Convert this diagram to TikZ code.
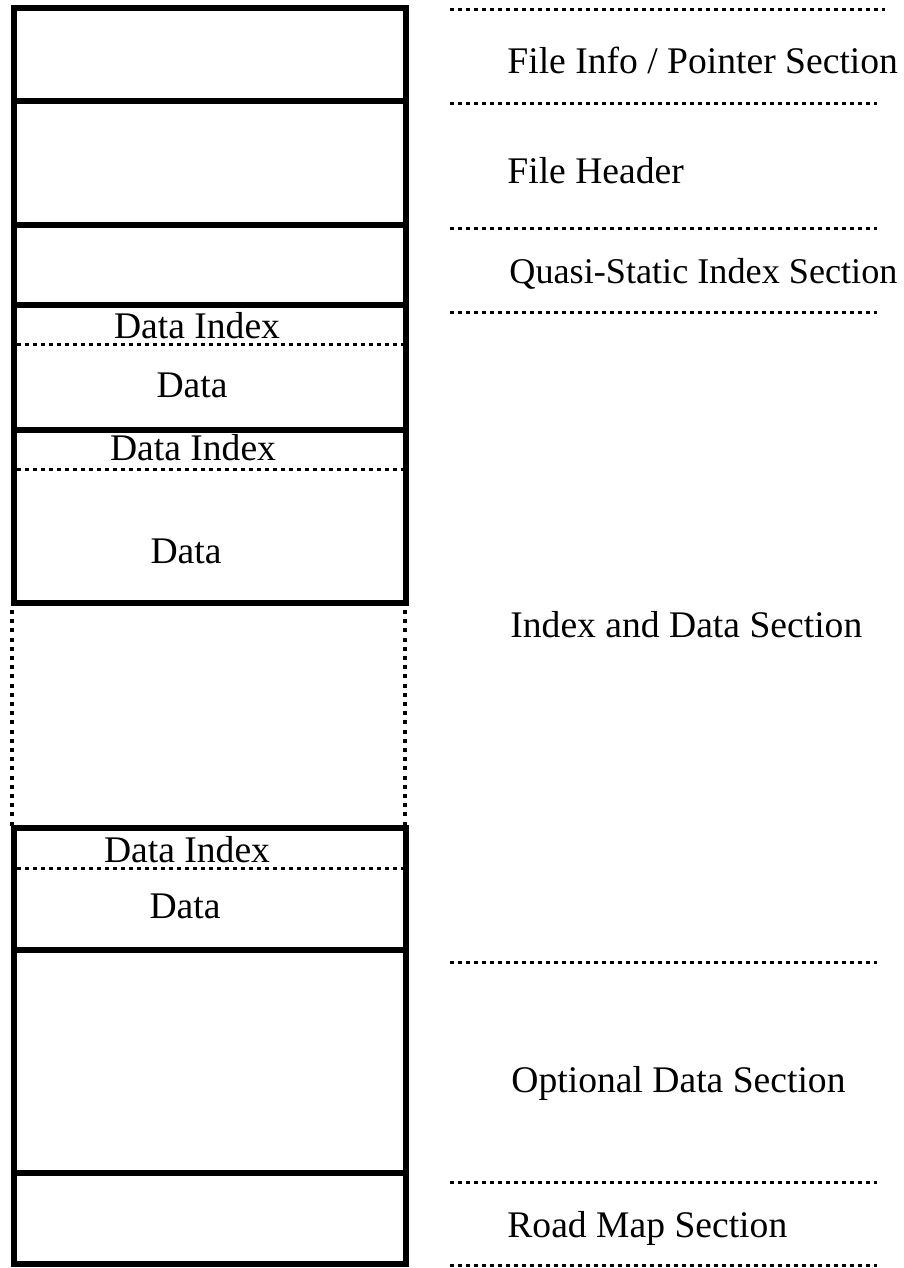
\documentclass[tikz,border=0pt]{standalone}
\usepackage{fontspec}
\setmainfont{Liberation Serif}
\usetikzlibrary{positioning}

\tikzset{
  wall/.style={draw, line width=2.8pt},
  gapline/.style={line width=2pt, dash pattern=on 2pt off 2.6pt},
  divline/.style={line width=1.5pt, dash pattern=on 2pt off 2pt},
  markline/.style={line width=1.5pt, dash pattern=on 2.2pt off 1.8pt},
  seclabel/.style={anchor=base west, inner sep=0pt},
  celllabel/.style={anchor=base, inner sep=0pt}
}

\begin{document}
\begin{tikzpicture}[x=0.5pt, y=-0.5pt, every node/.style={font=\fontsize{18.8}{21}\selectfont}]
        \useasboundingbox (0,0) rectangle (904,1268);

        % file column
        \draw[wall] (14,8) rectangle (406,101);
        \draw[wall] (14,101) rectangle (406,225);
        \draw[wall] (14,225) rectangle (406,305);
        \draw[wall] (14,305) rectangle (406,430);
        \draw[wall] (14,430) rectangle (406,603);
        \draw[wall] (14,828) rectangle (406,950);
        \draw[wall] (14,950) rectangle (406,1173);
        \draw[wall] (14,1173) rectangle (406,1264);

        % open part between the blocks
        \coordinate (gl1) at (12,610);
        \coordinate (gl2) at (12,826);
        \coordinate (gr1) at (405,610);
        \coordinate (gr2) at (405,826);
        \draw[gapline] (gl1) -- (gl2);
        \draw[gapline] (gr1) -- (gr2);

        % index / data split
        \coordinate (d1a) at (17,344);
        \coordinate (d1b) at (403,344);
        \coordinate (d2a) at (17,469);
        \coordinate (d2b) at (403,469);
        \coordinate (d3a) at (17,868);
        \coordinate (d3b) at (403,868);
        \draw[divline] (d1a) -- (d1b);
        \draw[divline] (d2a) -- (d2b);
        \draw[divline] (d3a) -- (d3b);

        \node[celllabel] (idx1) at (197,338) {Data Index};
        \node[celllabel] (dat1) at (192,397) {Data};
        \node[celllabel] (idx2) at (193,460) {Data Index};
        \node[celllabel] (dat2) at (186,563) {Data};
        \node[celllabel] (idx3) at (187,862) {Data Index};
        \node[celllabel] (dat3) at (185,918) {Data};

        % section marks on the right
        \coordinate (m1a) at (450,10);
        \coordinate (m1b) at (885,10);
        \coordinate (m2a) at (450,104);
        \coordinate (m2b) at (877,104);
        \coordinate (m3a) at (450,228);
        \coordinate (m3b) at (877,228);
        \coordinate (m4a) at (450,312);
        \coordinate (m4b) at (877,312);
        \coordinate (m5a) at (450,962);
        \coordinate (m5b) at (877,962);
        \coordinate (m6a) at (450,1182);
        \coordinate (m6b) at (877,1182);
        \coordinate (m7a) at (450,1265);
        \coordinate (m7b) at (877,1265);
        \draw[markline] (m1a) -- (m1b);
        \draw[markline] (m2a) -- (m2b);
        \draw[markline] (m3a) -- (m3b);
        \draw[markline] (m4a) -- (m4b);
        \draw[markline] (m5a) -- (m5b);
        \draw[markline] (m6a) -- (m6b);
        \draw[markline] (m7a) -- (m7b);

        \node[seclabel] (info) at (507,74) {File Info / Pointer Section};
        \node[seclabel] (head) at (507,183) {File Header};
        \node[seclabel, font=\fontsize{18.1}{21}\selectfont] (quasi) at (509,283) {Quasi-Static Index Section};
        \node[seclabel] (idxdata) at (510,637) {Index and Data Section};
        \node[seclabel] (opt) at (511,1092) {Optional Data Section};
        \node[seclabel] (road) at (507,1237) {Road Map Section};
\end{tikzpicture}
\end{document}
